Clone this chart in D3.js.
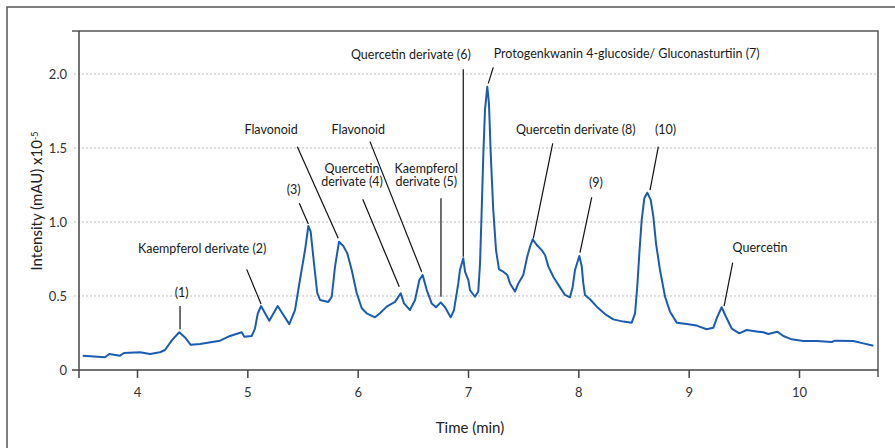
<!DOCTYPE html>
<html>
<head>
<meta charset="utf-8">
<script src="https://cdn.jsdelivr.net/npm/d3@7"></script>
<style>
  html, body { margin: 0; padding: 0; background: #fff; }
  svg { display: block; }
  text { font-family: Lato, "Liberation Sans", sans-serif; }
</style>
</head>
<body>
<svg id="chart" width="895" height="448"></svg>
<script>
// ---- data ----
const times = [3.508, 3.710, 3.749, 3.846, 3.882, 4.027, 4.118, 4.208, 4.254, 4.315,
  4.383, 4.435, 4.487, 4.571, 4.752, 4.843, 4.949, 4.973, 5.040, 5.069,
  5.094, 5.124, 5.199, 5.275, 5.380, 5.432, 5.477, 5.523, 5.553, 5.574,
  5.604, 5.634, 5.659, 5.734, 5.765, 5.795, 5.831, 5.870, 5.906, 5.946,
  5.991, 6.037, 6.082, 6.157, 6.202, 6.263, 6.338, 6.390, 6.420, 6.474,
  6.520, 6.559, 6.589, 6.626, 6.671, 6.710, 6.753, 6.792, 6.843, 6.873,
  6.912, 6.927, 6.957, 6.973, 7.003, 7.018, 7.063, 7.093, 7.109, 7.124,
  7.139, 7.154, 7.175, 7.190, 7.206, 7.229, 7.254, 7.281, 7.320, 7.356,
  7.381, 7.426, 7.456, 7.501, 7.537, 7.562, 7.586, 7.623, 7.668, 7.698,
  7.728, 7.773, 7.828, 7.879, 7.924, 7.949, 7.970, 8.009, 8.031, 8.045,
  8.060, 8.106, 8.167, 8.242, 8.317, 8.408, 8.484, 8.514, 8.534, 8.553,
  8.574, 8.598, 8.625, 8.656, 8.680, 8.704, 8.740, 8.786, 8.831, 8.892,
  8.982, 9.073, 9.163, 9.223, 9.260, 9.299, 9.338, 9.390, 9.459, 9.526,
  9.631, 9.676, 9.722, 9.803, 9.858, 9.934, 10.039, 10.160, 10.296, 10.326,
  10.492, 10.583, 10.674];
const intensity = [0.097, 0.086, 0.108, 0.097, 0.115, 0.120, 0.108, 0.120, 0.135, 0.200,
  0.255, 0.220, 0.170, 0.175, 0.198, 0.230, 0.255, 0.225, 0.230, 0.280,
  0.380, 0.432, 0.333, 0.432, 0.310, 0.405, 0.610, 0.810, 0.973, 0.935,
  0.720, 0.520, 0.473, 0.460, 0.495, 0.700, 0.867, 0.838, 0.788, 0.676,
  0.520, 0.417, 0.383, 0.356, 0.383, 0.428, 0.460, 0.518, 0.450, 0.405,
  0.473, 0.608, 0.642, 0.540, 0.450, 0.424, 0.457, 0.424, 0.356, 0.405,
  0.585, 0.676, 0.755, 0.664, 0.608, 0.540, 0.495, 0.530, 0.720, 1.080,
  1.460, 1.757, 1.914, 1.800, 1.460, 1.080, 0.810, 0.680, 0.664, 0.642,
  0.585, 0.530, 0.585, 0.642, 0.766, 0.833, 0.883, 0.845, 0.810, 0.777,
  0.700, 0.630, 0.565, 0.507, 0.491, 0.563, 0.676, 0.770, 0.700, 0.585,
  0.507, 0.478, 0.428, 0.378, 0.342, 0.327, 0.320, 0.383, 0.563, 0.788,
  1.013, 1.160, 1.198, 1.149, 1.036, 0.856, 0.676, 0.495, 0.394, 0.320,
  0.311, 0.300, 0.275, 0.285, 0.360, 0.424, 0.360, 0.280, 0.248, 0.270,
  0.259, 0.255, 0.243, 0.259, 0.230, 0.207, 0.196, 0.196, 0.189, 0.198,
  0.196, 0.180, 0.164];
const xTicks = [4, 5, 6, 7, 8, 9, 10];
const yTicks = [0, 0.5, 1.0, 1.5, 2.0];
const yTickLabels = ["0", "0.5", "1.0", "1.5", "2.0"];

// peak annotations: label lines, label centre (time, intensity), leader from -> to
const annotations = [
  { lines: ["(1)"], at: [4.405, 0.522], from: [4.390, 0.432], to: [4.390, 0.275] },
  { lines: ["Kaempferol derivate (2)"], at: [4.591, 0.822], from: [4.994, 0.680], to: [5.124, 0.446] },
  { lines: ["Flavonoid"], at: [5.216, 1.622], from: [5.453, 1.509], to: [5.824, 0.890] },
  { lines: ["(3)"], at: [5.420, 1.216], from: [5.471, 1.126], to: [5.553, 0.986] },
  { lines: ["Quercetin", "derivate (4)"], at: [5.949, 1.318], from: [6.046, 1.153], to: [6.377, 0.563] },
  { lines: ["Flavonoid"], at: [6.006, 1.626], from: [6.112, 1.543], to: [6.580, 0.664] },
  { lines: ["Kaempferol", "derivate (5)"], at: [6.622, 1.318], from: [6.755, 1.160], to: [6.755, 0.495] },
  { lines: ["Quercetin derivate (6)"], at: [6.482, 2.128], from: [6.957, 2.032], to: [6.957, 0.766] },
  { lines: ["Protogenkwanin 4-glucoside/ Gluconasturtiin (7)"], at: [8.438, 2.135], from: [7.229, 2.045], to: [7.184, 1.937] },
  { lines: ["Quercetin derivate (8)"], at: [7.977, 1.626], from: [7.768, 1.532], to: [7.592, 0.890] },
  { lines: ["(9)"], at: [8.160, 1.266], from: [8.121, 1.167], to: [8.015, 0.793] },
  { lines: ["(10)"], at: [8.790, 1.626], from: [8.725, 1.509], to: [8.650, 1.216] },
  { lines: ["Quercetin"], at: [9.647, 0.829], from: [9.399, 0.725], to: [9.321, 0.432] }
];

(function () {
  // ---- layout ----
  const W = 895, H = 448;
  const mL = 79, mR = 878, mT = 31, mB = 370;
  const svg = d3.select("#chart");

  const x = d3.scaleLinear().domain([3.4743, 10.716]).range([mL, mR]);
  const y = d3.scaleLinear().domain([0, 2.2905]).range([mB, mT]);

  // outer frame
  svg.append("path")
    .attr("d", `M7,${H} L7,7 L${W},7`)
    .attr("fill", "none").attr("stroke", "#555").attr("stroke-width", 1.5);

  // grid lines
  svg.append("g").selectAll("line")
    .data(yTicks.filter(d => d > 0))
    .join("line")
    .attr("x1", mL - 5).attr("x2", mR)
    .attr("y1", d => y(d)).attr("y2", d => y(d))
    .attr("stroke", "#bdbdbd").attr("stroke-width", 1)
    .attr("stroke-dasharray", "2,2");

  // plot box (top and right)
  svg.append("path")
    .attr("d", `M${mL - 7},${mT} L${mR},${mT} L${mR},${mB + 7}`)
    .attr("fill", "none").attr("stroke", "#555").attr("stroke-width", 1.5);

  // x axis
  const xAxis = d3.axisBottom(x).tickValues(xTicks).tickSize(8).tickPadding(10)
    .tickFormat(d3.format("d"));
  const gx = svg.append("g").attr("transform", `translate(0,${mB})`).call(xAxis);
  gx.select(".domain").remove();
  gx.append("line").attr("x1", mL - 7).attr("x2", mR).attr("y1", 0).attr("y2", 0)
    .attr("stroke", "#444").attr("stroke-width", 1.5);
  gx.selectAll(".tick line").attr("stroke", "#444").attr("stroke-width", 1.5);
  gx.selectAll(".tick text").attr("fill", "#333").style("font-size", "13px")
    .style("font-family", "Lato, 'Liberation Sans', sans-serif");

  // y axis
  const yAxis = d3.axisLeft(y).tickValues(yTicks).tickSize(0).tickPadding(12)
    .tickFormat((d, i) => yTickLabels[i]);
  const gy = svg.append("g").attr("transform", `translate(${mL},0)`).call(yAxis);
  gy.select(".domain").remove();
  gy.append("line").attr("x1", 0).attr("x2", 0).attr("y1", mT).attr("y2", mB + 8)
    .attr("stroke", "#444").attr("stroke-width", 1.5);
  gy.selectAll(".tick text").attr("fill", "#333").style("font-size", "13px")
    .style("font-family", "Lato, 'Liberation Sans', sans-serif");

  // axis titles
  svg.append("text")
    .attr("x", 470).attr("y", 433)
    .attr("text-anchor", "middle")
    .attr("fill", "#222").style("font-size", "15px")
    .text("Time (min)");

  const yt = svg.append("text")
    .attr("transform", `translate(42,201) rotate(-90)`)
    .attr("text-anchor", "middle")
    .attr("fill", "#222").style("font-size", "15px");
  yt.append("tspan").text("Intensity (mAU) x10");
  yt.append("tspan").attr("dy", "-0.5em").style("font-size", "9px").text("-5");

  // chromatogram line
  const pts = times.map((t, i) => [t, intensity[i]]);
  svg.append("path")
    .datum(pts)
    .attr("fill", "none")
    .attr("stroke", "#1b5cb3")
    .attr("stroke-width", 2)
    .attr("stroke-linejoin", "round")
    .attr("d", d3.line().x(d => x(d[0])).y(d => y(d[1])));

  // annotations
  const ga = svg.append("g");
  annotations.forEach(a => {
    ga.append("line")
      .attr("x1", x(a.from[0])).attr("y1", y(a.from[1]))
      .attr("x2", x(a.to[0])).attr("y2", y(a.to[1]))
      .attr("stroke", "#111").attr("stroke-width", 1.2);
    const n = a.lines.length;
    const lh = 13.3;
    a.lines.forEach((l, i) => {
      ga.append("text")
        .attr("x", x(a.at[0]))
        .attr("y", y(a.at[1]) + (i - (n - 1) / 2) * lh)
        .attr("dy", "0.35em")
        .attr("text-anchor", "middle")
        .attr("fill", "#1a1a1a")
        .style("font-size", "12.5px")
        .text(l);
    });
  });
})();
</script>
</body>
</html>
